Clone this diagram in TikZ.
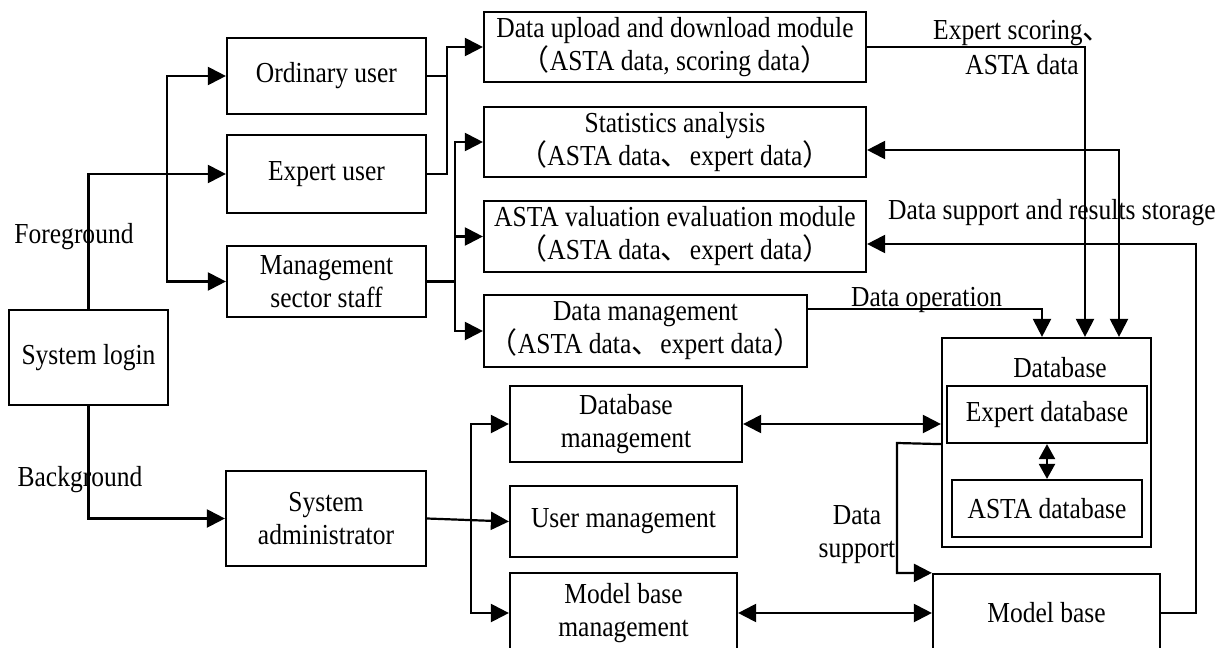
\documentclass[tikz,border=0pt]{standalone}
\usepackage{fontspec}
\setmainfont{Liberation Serif}[FakeStretch=0.88]
\newfontfamily\cjk{Noto Sans CJK SC}
\usetikzlibrary{arrows.meta}
\newcommand{\lp}{{\cjk （}}
\newcommand{\rp}{{\cjk ）}}
\newcommand{\dun}{{\cjk 、}}
\tikzset{
  box/.style={draw, line width=2.2pt, inner sep=0pt, align=center,
    font=\fontsize{29}{33}\selectfont},
  lbl/.style={inner sep=0pt, align=center, font=\fontsize{29}{33}\selectfont},
  wire/.style={line width=2.2pt},
  arr/.style={wire, -{Triangle[length=18pt,width=18pt]}},
  darr/.style={wire, {Triangle[length=18pt,width=18pt]}-{Triangle[length=18pt,width=18pt]}},
  sdarr/.style={wire, {Triangle[length=15pt,width=16pt]}-{Triangle[length=15pt,width=16pt]}},
}
\begin{document}
\begin{tikzpicture}[x=1pt,y=-1pt]
\useasboundingbox (0,0) rectangle (1224,648);
\clip (0,0) rectangle (1224,648);
\fill[white] (0,0) rectangle (1224,648);

% user side
\node[box, minimum width=159, minimum height=95] (login) at (88.5,357.5) {System login};
\node[box, minimum width=199, minimum height=76] (ordinary) at (326.5,76) {Ordinary user};
\node[box, minimum width=199, minimum height=78] (expert) at (326.5,174) {Expert user};
\node[box, minimum width=199, minimum height=71] (mgmt) at (326.5,281.5) {Management\\sector staff};
\node[box, minimum width=200, minimum height=95] (admin) at (326,518.5) {System\\administrator};

% function modules
\node[box, minimum width=382, minimum height=70] (upload) at (675,47)
  {Data upload and download module\\\lp ASTA data, scoring data\rp};
\node[box, minimum width=382, minimum height=70] (stats) at (675,142)
  {Statistics analysis\\\lp ASTA data\dun expert data\rp};
\node[box, minimum width=382, minimum height=71] (valuation) at (675,236.5)
  {ASTA valuation evaluation module\\\lp ASTA data\dun expert data\rp};
\node[box, minimum width=323, minimum height=72] (datamgmt) at (645.5,331)
  {Data management\\\lp ASTA data\dun expert data\rp};
\node[box, minimum width=232, minimum height=76] (dbmgmt) at (626,424) {Database\\management};
\node[box, minimum width=227, minimum height=71] (usermgmt) at (623.5,521.5) {User management};
\node[box, minimum width=227, minimum height=80] (modelmgmt) at (623.5,613) {Model base\\management};

% storage
\node[box, minimum width=209, minimum height=209] (db) at (1046.5,442.5) {};
\node[lbl] (dblabel) at (1060,368) {Database};
\node[box, minimum width=200, minimum height=57] (expertdb) at (1047,414.5) {Expert database};
\node[box, minimum width=190, minimum height=57] (astadb) at (1047,508.5) {ASTA database};
\node[box, minimum width=227, minimum height=78] (model) at (1046.5,613) {Model base};

% junction points
\coordinate (fgbus) at (167,174);
\coordinate (ubus) at (447,76);
\coordinate (mbus) at (455,281.5);
\coordinate (abus) at (471,520);
\coordinate (ds) at (897,443);
\coordinate (mbr) at (1196,613);

% login branches
\draw[arr] (login.north) |- (expert.west);
\draw[arr] (fgbus) |- (ordinary.west);
\draw[arr] (fgbus) |- (mgmt.west);
\draw[arr] (login.south) |- (admin.west);

% users to modules
\draw[wire] (expert.east) -| (ubus);
\draw[arr] (ordinary.east) -- (ubus) |- (upload.west);
\draw[arr] (mgmt.east) -- (mbus) |- (stats.west);
\draw[arr] (mbus) |- (valuation.west);
\draw[arr] (mbus) |- (datamgmt.west);

% administrator to management modules
\draw[arr] (admin.east) -- (usermgmt.west);
\draw[arr] (abus) |- (dbmgmt.west);
\draw[arr] (abus) |- (modelmgmt.west);

% data flows
\draw[darr] (dbmgmt.east) -- (dbmgmt.east -| db.west);
\draw[darr] (modelmgmt.east) -- (model.west);
\draw[sdarr] (expertdb.south) -- (astadb.north);
\draw[arr] (upload.east) -| ([xshift=38.5pt]db.north);
\draw[darr] ([xshift=72.5pt]db.north) |- ([yshift=-8pt]stats.east);
\draw[arr] ([yshift=22pt]datamgmt.east) -| ([xshift=-4.5pt]db.north);
\draw[arr] (model.east) -- (mbr) |- ([yshift=-7.5pt]valuation.east);
\draw[arr] (db.west |- expertdb.south) -- (ds) |- (model.north west);

% labels
\node[lbl] (fg) at (74,237) {Foreground};
\node[lbl] (bg) at (80,480) {Background};
\node[lbl, anchor=west] (es1) at (933,33) {Expert scoring\dun};
\node[lbl, anchor=east] (es2) at (1079,65) {ASTA data};
\node[lbl, anchor=west] (dsr) at (888,213) {Data support and results storage};
\node[lbl, anchor=west] (dop) at (851,300) {Data operation};
\node[lbl] (dsup) at (857,535) {Data\\support};
\end{tikzpicture}
\end{document}
